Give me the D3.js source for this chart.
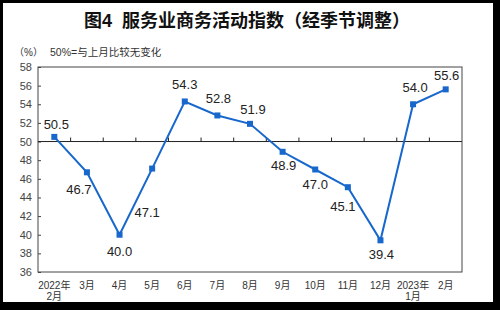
<!DOCTYPE html>
<html><head><meta charset="utf-8">
<script src="https://cdn.jsdelivr.net/npm/d3@7"></script>
<style>
html,body{margin:0;padding:0;background:#000;}
svg{display:block;}
</style></head>
<body>
<script>
const categories = ["2022年\n2月","3月","4月","5月","6月","7月","8月","9月","10月","11月","12月","2023年\n1月","2月"];
const values = [50.5,46.7,40.0,47.1,54.3,52.8,51.9,48.9,47.0,45.1,39.4,54.0,55.6];
const yTicks = [36,38,40,42,44,46,48,50,52,54,56,58];
// label placement (dx, dy baseline offset from point)
const labelOffsets = [[2,-8],[-8,22],[0,21],[-5,48],[0,-12],[1,-12],[3,-10],[1,18],[0,19],[-5,24],[1,19],[2,-12],[1,-9]];

const W=500,H=310;
const svg=d3.select("body").append("svg").attr("width",W).attr("height",H);
svg.append("rect").attr("width",W).attr("height",H).attr("fill","#000");
svg.append("rect").attr("x",3).attr("y",3).attr("width",490).attr("height",299).attr("fill","#fff");

const font="'Liberation Sans', Arial, sans-serif";
const cjk="'Liberation Sans','Noto Sans CJK SC', sans-serif";

svg.append("text").attr("x",247).attr("y",27).attr("text-anchor","middle")
  .attr("font-family",cjk).attr("font-weight","bold").attr("font-size",18).attr("fill","#111")
  .text("图4\u00a0\u00a0服务业商务活动指数（经季节调整）");
svg.append("text").attr("x",14).attr("y",56).attr("font-family",cjk).attr("font-size",10).attr("fill","#333").text("（%）");
svg.append("text").attr("x",50).attr("y",56).attr("font-family",cjk).attr("font-size",10.5).attr("fill","#333").text("50%=与上月比较无变化");

const L=38,R=462,T=67,B=272;
const x=d3.scaleBand().domain(d3.range(categories.length)).range([L,R]).padding(0);
const y=d3.scaleLinear().domain([36,58]).range([B,T]);

// plot frame
svg.append("rect").attr("x",L).attr("y",T).attr("width",R-L).attr("height",B-T)
  .attr("fill","none").attr("stroke","#444").attr("stroke-width",1);

// y axis
const ya=svg.append("g").attr("transform",`translate(${L},0)`)
  .call(d3.axisLeft(y).tickValues(yTicks).tickSize(-3).tickPadding(6).tickFormat(d3.format("d")));
ya.select(".domain").remove();
ya.selectAll("line").attr("stroke","#444");
ya.selectAll("text").attr("font-family",font).attr("font-size",11).attr("fill","#444");

// 50 baseline with ticks
const y50=y(50);
svg.append("line").attr("x1",L).attr("x2",R).attr("y1",y50).attr("y2",y50).attr("stroke","#222").attr("stroke-width",1);
svg.append("g").selectAll("line").data(d3.range(1,categories.length)).join("line")
  .attr("x1",i=>x(i)).attr("x2",i=>x(i)).attr("y1",y50).attr("y2",y50-4).attr("stroke","#222");

// x labels
const xl=svg.append("g").selectAll("text").data(categories).join("text")
  .attr("font-family",cjk).attr("font-size",10).attr("fill","#333").attr("text-anchor","middle");
xl.each(function(d,i){
  const parts=d.split("\n");
  const t=d3.select(this);
  parts.forEach((p,k)=>{
    t.append("tspan").attr("x",x(i)+x.bandwidth()/2).attr("y",289+k*11).text(p);
  });
});

const cx=i=>x(i)+x.bandwidth()/2;
const line=d3.line().x((d,i)=>cx(i)).y(d=>y(d));
svg.append("path").datum(values).attr("d",line).attr("fill","none").attr("stroke","#1767cc").attr("stroke-width",2);
svg.append("g").selectAll("rect").data(values).join("rect")
  .attr("x",(d,i)=>cx(i)-3).attr("y",d=>y(d)-3).attr("width",6).attr("height",6).attr("fill","#1767cc");

svg.append("g").selectAll("text").data(values).join("text")
  .attr("x",(d,i)=>cx(i)+labelOffsets[i][0]).attr("y",(d,i)=>y(d)+labelOffsets[i][1])
  .attr("text-anchor","middle").attr("font-family",font).attr("font-size",13).attr("fill","#222")
  .text(d=>d.toFixed(1));
</script>
</body></html>
